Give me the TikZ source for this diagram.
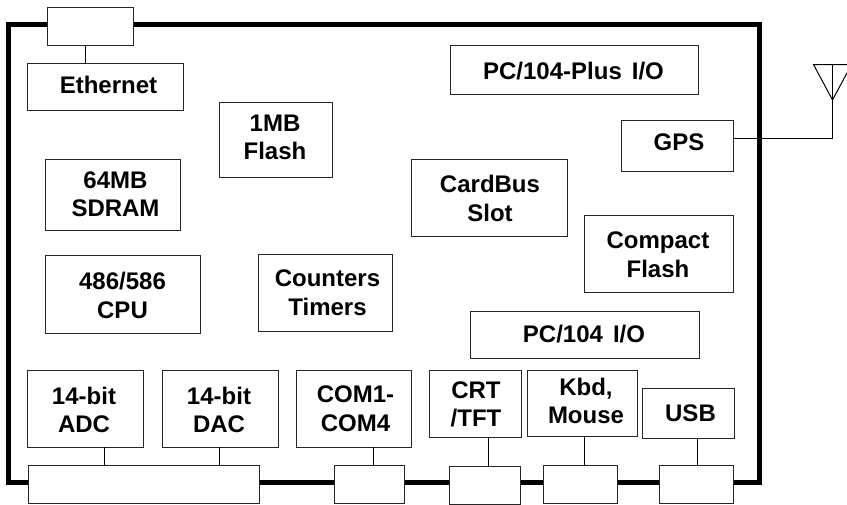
\documentclass[tikz,border=0pt]{standalone}
\usepackage{fontspec}
\setmainfont{Liberation Sans}
\newcommand{\bx}[5]{\node[blk,minimum width={(#4-#2)*1pt},minimum height={(#5-#3)*1pt}] (#1) at ({(#2+#4)/2},{(#3+#5)/2}) {};}
\newcommand{\lb}[4]{\node[lbl,anchor=base] (#1t) at (#2,#3) {#4};}
\tikzset{blk/.style={draw=black!85,line width=1pt,fill=white,inner sep=0pt,outer sep=0pt},
 lbl/.style={font=\fontsize{24}{28}\selectfont\bfseries,align=center,inner sep=0pt,text=black},
 link/.style={line width=1pt,draw=black},
 board/.style={line width=5pt,draw=black,miter limit=10}}
\begin{document}
\begin{tikzpicture}[x=1pt,y=-1pt]
\useasboundingbox (0,0) rectangle (847,504);
\coordinate (b1) at (8,24.5);
\coordinate (b2) at (759.5,482.5);
\draw[board] (b1) rectangle (b2);
\coordinate (tip) at (832.5,100);
\coordinate (ant) at (832.5,138);
\coordinate (al) at (813.5,64.5);
\coordinate (ar) at (851.5,64.5);
\coordinate (am) at (832.5,64.5);
\bx{port0}{47}{7}{133}{45}
\bx{eth}{27.5}{63.5}{183}{110.5}
\bx{plus}{450.5}{45.5}{698.5}{94.5}
\bx{gps}{621.5}{120}{733}{171}
\bx{flash}{219}{102}{332.5}{177}
\bx{card}{411.5}{159.5}{567}{236.5}
\bx{sdram}{45.5}{159.5}{180.5}{230}
\bx{cpu}{45.5}{255}{200.5}{333}
\bx{count}{258.5}{254.5}{392.5}{331.5}
\bx{cf}{584}{215.5}{733}{292.5}
\bx{pc}{470}{311.5}{699.5}{358.5}
\bx{adc}{27.5}{370}{143.5}{447}
\bx{dac}{162.5}{370}{278.5}{447}
\bx{com}{296}{370}{411}{447}
\bx{crt}{429.5}{370}{521.5}{437}
\bx{kbd}{527.5}{370}{637}{436}
\bx{usb}{642.5}{388}{734.5}{438}
\bx{p1}{28}{465}{259}{503}
\bx{p2}{334}{465}{404}{503}
\bx{p3}{449}{466}{520}{504}
\bx{p4}{543}{465}{617}{503}
\bx{p5}{659}{465}{733}{503}
\lb{eth}{108.5}{93}{Ethernet}
\lb{plus}{573.5}{79}{PC/104-Plus\hspace{10pt}I/O}
\lb{gps}{679}{150}{GPS}
\lb{flash}{275}{159}{1MB\\Flash}
\lb{card}{490}{221}{CardBus\\[1pt]Slot}
\lb{sdram}{115.5}{216}{64MB\\SDRAM}
\lb{cpu}{122.5}{318}{486/586\\[1pt]CPU}
\lb{count}{327.5}{315}{Counters\\[1pt]Timers}
\lb{cf}{658}{277}{Compact\\[1pt]Flash}
\lb{pc}{584}{342}{PC/104\hspace{10pt}I/O}
\lb{adc}{84}{432}{14-bit\\ADC}
\lb{dac}{219}{432}{14-bit\\DAC}
\lb{com}{355.5}{431}{COM1-\\[1pt]COM4}
\lb{crt}{476}{426}{CRT\\/TFT}
\lb{kbd}{586}{423}{Kbd,\\Mouse}
\lb{usb}{690.5}{421}{USB}
\draw[link] (eth.north -| 85,0) -- (port0.south -| 85,0);
\draw[link] (adc.south -| 104,0) -- (p1.north -| 104,0);
\draw[link] (dac.south -| 219,0) -- (p1.north -| 219,0);
\draw[link] (com.south -| 373,0) -- (p2.north -| 373,0);
\draw[link] (crt.south -| 488,0) -- (p3.north -| 488,0);
\draw[link] (kbd.south -| 584,0) -- (p4.north -| 584,0);
\draw[link] (usb.south -| 697.5,0) -- (p5.north -| 697.5,0);
\draw[link] (gps.east |- ant) -- (ant) -- (tip);
\draw[link] (am) -- (tip);
\draw[link,line join=miter] (ar) -- (tip) -- (al) -- (ar);
\end{tikzpicture}
\end{document}
